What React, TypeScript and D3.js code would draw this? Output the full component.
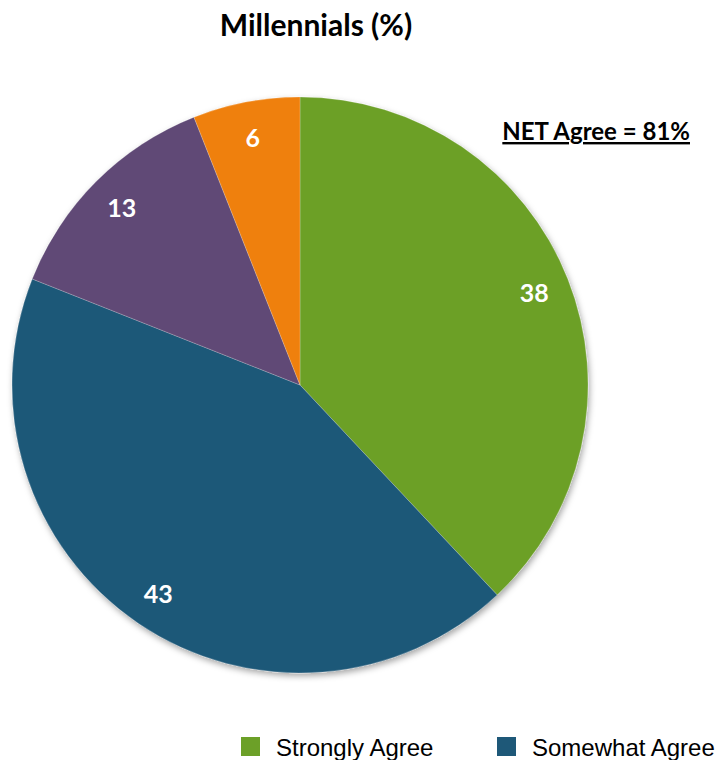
import React, { useEffect, useRef } from "react";
import * as d3 from "d3";

const categories = ["Strongly Agree", "Somewhat Agree", "Somewhat Disagree", "Strongly Disagree"];
const values = [38, 43, 13, 6];
const colors = ["#6ca028", "#1e5878", "#604a76", "#ef800e"];
const legendCount = 2;
const title = "Millennials (%)";
const netLabel = "NET Agree = 81%";

const W = 722;
const H = 760;

export default function App() {
  const ref = useRef<SVGSVGElement>(null);
  useEffect(() => {
    document.body.style.margin = "0";
    const svg = d3.select(ref.current);
    svg.selectAll("*").remove();

    const defs = svg.append("defs");
    const f = defs.append("filter").attr("id", "sh").attr("x", "-10%").attr("y", "-10%").attr("width", "120%").attr("height", "120%");
    f.append("feDropShadow").attr("dx", 1.5).attr("dy", 3).attr("stdDeviation", 3).attr("flood-color", "#000").attr("flood-opacity", 0.35);

    const cx = 300, cy = 385, r = 288;
    const pie = d3.pie<number>().sort(null).value((d) => d);
    const arcs = pie(values);
    const arc = d3.arc<d3.PieArcDatum<number>>().innerRadius(0).outerRadius(r);
    const labelArc = d3.arc<d3.PieArcDatum<number>>().innerRadius(252).outerRadius(252);

    const g = svg.append("g").attr("transform", `translate(${cx},${cy})`);
    g.append("g").attr("filter", "url(#sh)")
      .selectAll("path").data(arcs).join("path")
      .attr("d", arc as any)
      .attr("fill", (_, i) => colors[i])
      .attr("stroke", "rgba(255,255,255,0.35)")
      .attr("stroke-width", 0.6);

    g.selectAll("text.lbl").data(arcs).join("text")
      .attr("class", "lbl")
      .attr("transform", (d) => `translate(${labelArc.centroid(d)})`)
      .attr("text-anchor", "middle")
      .attr("dominant-baseline", "central")
      .attr("font-family", "Lato, 'Open Sans', sans-serif")
      .attr("font-weight", 700)
      .attr("font-size", 25)
      .attr("fill", "#fff")
      .text((d) => String(d.data));

    svg.append("text")
      .attr("x", 316).attr("y", 36)
      .attr("text-anchor", "middle")
      .attr("font-family", "Lato, 'Open Sans', sans-serif")
      .attr("font-weight", 700)
      .attr("font-size", 30)
      .attr("fill", "#000")
      .text(title);

    svg.append("text")
      .attr("x", 690).attr("y", 140)
      .attr("text-anchor", "end")
      .attr("font-family", "Lato, 'Open Sans', sans-serif")
      .attr("font-weight", 700)
      .attr("font-size", 24)
      .attr("text-decoration", "underline")
      .attr("fill", "#000")
      .text(netLabel);

    const legendX = [241, 497];
    const lg = svg.append("g");
    categories.slice(0, legendCount).forEach((c, i) => {
      lg.append("rect").attr("x", legendX[i]).attr("y", 737).attr("width", 19).attr("height", 19).attr("fill", colors[i]);
      lg.append("text")
        .attr("x", legendX[i] + 35).attr("y", 756)
        .attr("font-family", "'Liberation Sans', Arial, sans-serif")
        .attr("font-size", 24)
        .attr("fill", "#000")
        .text(c);
    });
  }, []);
  return <svg ref={ref} width={W} height={H} style={{ display: "block", background: "#fff" }} />;
}
